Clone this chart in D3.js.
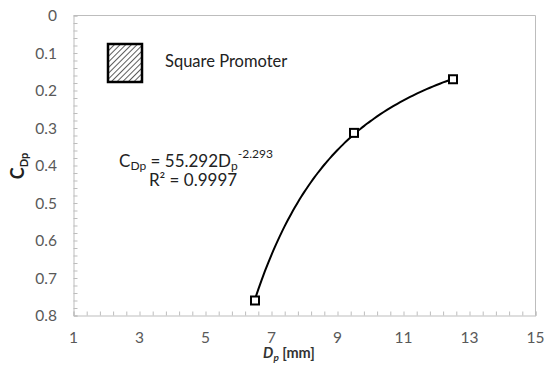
<!DOCTYPE html>
<html>
<head>
<meta charset="utf-8">
<script src="https://cdn.jsdelivr.net/npm/d3@7"></script>
<style>
  body { margin: 0; background: #fff; }
  text { font-family: Lato, "Open Sans", sans-serif; }
</style>
</head>
<body>
<svg id="chart" width="547" height="367"></svg>
<script>
// measured points, square promoter
var dp = [6.5, 9.5, 12.5];
var cdp = [0.760, 0.313, 0.170];

// power trendline as printed on the chart: C = a * Dp^b
var fitA = 55.292;
var fitB = -2.293;
var fitR2 = "0.9997";

var xTicks = [1, 3, 5, 7, 9, 11, 13, 15];
var yTicks = [0, 0.1, 0.2, 0.3, 0.4, 0.5, 0.6, 0.7, 0.8];

var legendLabel = "Square Promoter";

var svg = d3.select("#chart");
var pLeft = 73.5, pRight = 535.5, pTop = 15.5, pBottom = 315.5;

var x = d3.scaleLinear().domain([1, 15]).range([pLeft, pRight]);
var y = d3.scaleLinear().domain([0, 0.8]).range([pTop, pBottom]);

var axisColor = "#bdbdbd";
var labelColor = "#595959";

// hatch pattern for the legend box
var pat = svg.append("defs").append("pattern")
	.attr("id", "hatch")
	.attr("patternUnits", "userSpaceOnUse")
	.attr("width", 4).attr("height", 4)
	.attr("patternTransform", "rotate(45)");
pat.append("rect").attr("width", 4).attr("height", 4).attr("fill", "#fff");
pat.append("line").attr("x1", 0).attr("y1", 0).attr("x2", 0).attr("y2", 4)
	.attr("stroke", "#333").attr("stroke-width", 1.6);

// plot frame (top and right)
svg.append("path")
	.attr("d", "M" + pLeft + "," + pTop + "H" + pRight + "V" + pBottom)
	.attr("fill", "none").attr("stroke", axisColor).attr("stroke-width", 1);

// minor ticks, inside
var xMinor = d3.range(0, 36).map(function(i) { return 1 + i * 0.4; });
var yMinor = d3.range(0, 41).map(function(i) { return i * 0.02; });

var xAxis = d3.axisTop(x).tickValues(xMinor).tickSize(4).tickFormat("");
var gx = svg.append("g").attr("transform", "translate(0," + pBottom + ")").call(xAxis);
var yAxis = d3.axisRight(y).tickValues(yMinor).tickSize(4).tickFormat("");
var gy = svg.append("g").attr("transform", "translate(" + pLeft + ",0)").call(yAxis);

[gx, gy].forEach(function(g) {
	g.selectAll("path.domain").attr("stroke", axisColor);
	g.selectAll(".tick line").attr("stroke", axisColor);
});

// tick labels
svg.append("g").selectAll("text").data(xTicks).enter().append("text")
	.attr("x", function(d) { return x(d); })
	.attr("y", 343)
	.attr("text-anchor", "middle")
	.attr("font-size", 15.5)
	.attr("fill", labelColor)
	.text(function(d) { return d; });

svg.append("g").selectAll("text").data(yTicks).enter().append("text")
	.attr("x", 57)
	.attr("y", function(d) { return y(d) + 5.5; })
	.attr("text-anchor", "end")
	.attr("font-size", 15.5)
	.attr("fill", labelColor)
	.text(function(d) { return d; });

// axis titles
var xt = svg.append("text")
	.attr("x", 289).attr("y", 358)
	.attr("text-anchor", "middle")
	.attr("font-size", 14.5).attr("font-weight", "bold").attr("fill", "#333");
xt.append("tspan").attr("font-style", "italic").text("D");
xt.append("tspan").attr("font-style", "italic").attr("font-size", 10).attr("dy", 3).text("p");
xt.append("tspan").attr("dy", -3).text(" [mm]");

var yt = svg.append("text")
	.attr("transform", "translate(24,166) rotate(-90)")
	.attr("text-anchor", "middle")
	.attr("font-size", 18).attr("font-weight", "bold").attr("fill", "#222");
yt.append("tspan").text("C");
yt.append("tspan").attr("font-size", 11).attr("dy", 4).text("Dp");

// trendline over the range of the data
var pts = dp.map(function(d, i) { return [d, cdp[i]]; });
var xs = d3.scaleLinear().domain(d3.extent(dp)).ticks(60);
var fitPts = xs.map(function(d) { return [d, fitA * Math.pow(d, fitB)]; });
var line = d3.line()
	.x(function(d) { return x(d[0]); })
	.y(function(d) { return y(d[1]); })
	.curve(d3.curveMonotoneX);

svg.append("path")
	.datum(fitPts)
	.attr("d", line)
	.attr("fill", "none")
	.attr("stroke", "#000")
	.attr("stroke-width", 2);

svg.append("g").selectAll("rect").data(pts).enter().append("rect")
	.attr("x", function(d) { return x(d[0]) - 4; })
	.attr("y", function(d) { return y(d[1]) - 4; })
	.attr("width", 8).attr("height", 8)
	.attr("fill", "#fff")
	.attr("stroke", "#000")
	.attr("stroke-width", 2);

// legend
svg.append("rect")
	.attr("x", 108).attr("y", 44).attr("width", 34).attr("height", 38)
	.attr("fill", "url(#hatch)")
	.attr("stroke", "#000").attr("stroke-width", 2.5);
svg.append("text")
	.attr("x", 165).attr("y", 67)
	.attr("font-size", 16.5).attr("fill", "#222")
	.text(legendLabel);

// fit equation
var eq = svg.append("text")
	.attr("x", 196).attr("y", 167)
	.attr("text-anchor", "middle")
	.attr("font-size", 17).attr("fill", "#222");
eq.append("tspan").text("C");
eq.append("tspan").attr("font-size", 12).attr("dy", 3).text("Dp");
eq.append("tspan").attr("dy", -3).text(" = " + fitA + "D");
eq.append("tspan").attr("font-size", 12).attr("dy", 3).text("p");
eq.append("tspan").attr("font-size", 12).attr("dy", -12).text(fitB);

svg.append("text")
	.attr("x", 193).attr("y", 186)
	.attr("text-anchor", "middle")
	.attr("font-size", 17).attr("fill", "#222")
	.text("R\u00b2 = " + fitR2);
</script>
</body>
</html>
